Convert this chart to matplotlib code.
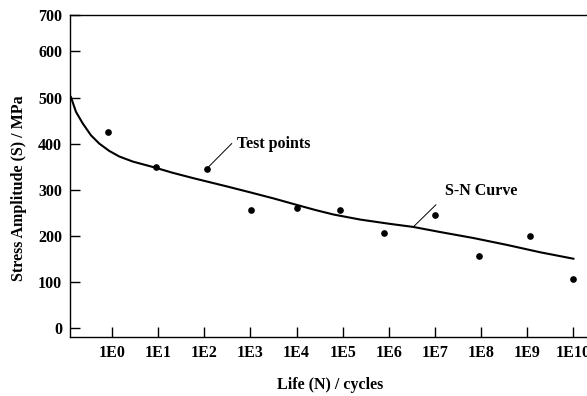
import numpy as np
import matplotlib
matplotlib.use("Agg")
import matplotlib.pyplot as plt

plt.rcParams['font.family'] = ['Liberation Serif', 'DejaVu Serif']
plt.rcParams['font.weight'] = 'bold'

# test points (log10 of life, stress amplitude in MPa)
test_logN = [-0.08, 0.95, 2.05, 3.01, 4.0, 4.95, 5.90, 7.0, 7.96, 9.05, 10.0]
test_S = [425, 350, 345, 255, 260, 256, 205, 245, 155, 200, 106]

# S-N curve
curve_logN = [-0.89, -0.78, -0.635, -0.455, -0.275, -0.058, 0.158, 0.45, 0.93, 1.3,
              1.76, 2.49, 3.0, 3.5, 4.0, 4.4, 4.8, 5.38, 6.0, 6.53, 7.11, 7.83,
              8.56, 9.28, 10.0]
curve_S = [501, 469, 444, 418, 400, 384, 372, 361, 348, 337,
           325, 307, 294, 281, 267, 256, 246, 235, 226, 219, 208, 195,
           180, 164, 150]

xtick_labels = ['1E0', '1E1', '1E2', '1E3', '1E4', '1E5', '1E6', '1E7', '1E8', '1E9', '1E10']
ytick_vals = [0, 100, 200, 300, 400, 500, 600]

fig = plt.figure(figsize=(5.87, 3.96), dpi=100)
ax = fig.add_axes([0.120, 0.149, 0.90, 0.814])

ax.plot(10.0 ** np.array(curve_logN), curve_S, color='black', lw=1.5)
ax.plot(10.0 ** np.array(test_logN), test_S, 'o', color='black', ms=3.8)

ax.set_xscale('log')
ax.set_xlim(10 ** -0.9, 10 ** 10.55)
ax.set_ylim(-20, 680)

ax.set_xticks([10.0 ** i for i in range(11)])
ax.set_xticklabels(xtick_labels)
ax.xaxis.set_minor_locator(matplotlib.ticker.NullLocator())
ax.set_yticks(ytick_vals + [680])
ax.set_yticklabels([str(v) for v in ytick_vals] + ['700'])

ax.tick_params(axis='both', direction='in', length=7, width=1, labelsize=11.5, pad=6)
for lab in ax.get_xticklabels() + ax.get_yticklabels():
    lab.set_fontweight('bold')

ax.spines['right'].set_visible(False)
for s in ['left', 'bottom', 'top']:
    ax.spines[s].set_linewidth(1.0)

# callouts
ax.plot([10 ** 2.05, 10 ** 2.595], [345, 400], color='black', lw=0.7)
ax.text(10 ** 2.71, 400, 'Test points', fontsize=11.5, fontweight='bold', va='center', ha='left')
ax.plot([10 ** 6.53, 10 ** 7.02], [219, 267], color='black', lw=0.7)
ax.text(10 ** 7.22, 297, 'S-N Curve', fontsize=11.5, fontweight='bold', va='center', ha='left')

fig.text(19 / 587, 1 - 188 / 396, 'Stress Amplitude (S) / MPa', rotation=90,
         fontsize=11.5, fontweight='bold', ha='center', va='center')
fig.text(330 / 587, 1 - 385 / 396, 'Life (N) / cycles',
         fontsize=11.5, fontweight='bold', ha='center', va='center')

fig.savefig('out.png', dpi=100)
